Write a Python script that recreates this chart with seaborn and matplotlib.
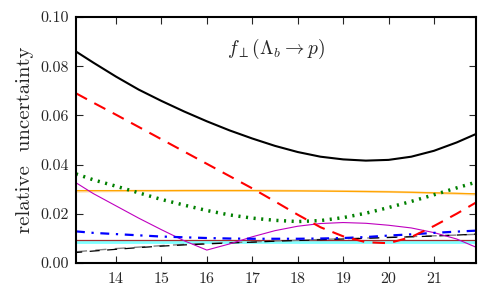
import numpy as np
import pandas as pd
import matplotlib
matplotlib.use("Agg")
import matplotlib.pyplot as plt
import seaborn as sns

sns.set_style("ticks")
plt.rcParams['font.family'] = ['cmr10', 'DejaVu Serif']
plt.rcParams['mathtext.fontset'] = 'cm'
plt.rcParams['axes.formatter.use_mathtext'] = True

q2 = [13.12, 13.5, 14.0, 14.5, 15.0, 15.5, 16.0, 16.5, 17.0, 17.5, 18.0,
      18.5, 19.0, 19.5, 20.0, 20.5, 21.0, 21.5, 21.92]

total = [0.0860, 0.0815, 0.0758, 0.0705, 0.0659, 0.0616, 0.0576, 0.0539,
         0.0506, 0.0476, 0.0451, 0.0432, 0.0421, 0.0416, 0.0419, 0.0432,
         0.0456, 0.0490, 0.0524]
red = [0.0690, 0.0652, 0.0603, 0.0553, 0.0503, 0.0453, 0.0403, 0.0353,
       0.0303, 0.0250, 0.0196, 0.0145, 0.0108, 0.0084, 0.0080, 0.0105,
       0.0150, 0.0200, 0.0245]
green = [0.0362, 0.0338, 0.0312, 0.0285, 0.0258, 0.0235, 0.0213, 0.0195,
         0.0182, 0.0173, 0.0168, 0.0172, 0.0184, 0.0202, 0.0225, 0.0250,
         0.0277, 0.0305, 0.0328]
orange = [0.0294, 0.0294, 0.0294, 0.0294, 0.0294, 0.0294, 0.0294, 0.0294,
          0.0294, 0.0293, 0.0293, 0.0292, 0.0291, 0.0290, 0.0289, 0.0287,
          0.0285, 0.0283, 0.0281]
lightorange = [0.0290, 0.0291, 0.0292, 0.0293, 0.0293, 0.0294, 0.0294, 0.0294,
               0.0294, 0.0294, 0.0293, 0.0293, 0.0292, 0.0291, 0.0289, 0.0287,
               0.0284, 0.0281, 0.0278]
magenta = [0.0326, 0.0282, 0.0232, 0.0182, 0.0135, 0.0090, 0.0052, 0.0077,
           0.0106, 0.0131, 0.0149, 0.0160, 0.0164, 0.0161, 0.0153, 0.0142,
           0.0123, 0.0097, 0.0064]
blue = [0.0128, 0.0122, 0.0117, 0.0112, 0.0107, 0.0104, 0.0101, 0.0099,
        0.0098, 0.0098, 0.0098, 0.0099, 0.0101, 0.0105, 0.0111, 0.0116,
        0.0122, 0.0127, 0.0131]
brown = [0.0095] * len(q2)
cyan = [0.0083] * len(q2)
blackdash = [0.0042, 0.0048, 0.0055, 0.0062, 0.0068, 0.0073, 0.0077, 0.0081,
             0.0084, 0.0088, 0.0091, 0.0094, 0.0097, 0.0100, 0.0103, 0.0106,
             0.0109, 0.0113, 0.0117]
graydash = [0.0045, 0.0051, 0.0058, 0.0064, 0.0070, 0.0075, 0.0079, 0.0082,
            0.0085, 0.0089, 0.0092, 0.0095, 0.0098, 0.0101, 0.0104, 0.0107,
            0.0110, 0.0113, 0.0116]

xticks = [14, 15, 16, 17, 18, 19, 20, 21]
yticks = [0.00, 0.02, 0.04, 0.06, 0.08, 0.10]

fig = plt.figure(figsize=(4.87, 2.95), dpi=100)
ax = fig.add_axes([0.156, 0.109, 0.821, 0.833])

styles = [
    (cyan, dict(color='#7fffff', lw=2.0, ls='-')),
    (brown, dict(color='#a52a2a', lw=0.9, ls='-')),
    (graydash, dict(color='gray', lw=1.0, ls=(0, (8, 6)))),
    (blackdash, dict(color='black', lw=0.9, ls=(3, (8, 6)))),
    (lightorange, dict(color='#ffdead', lw=1.6, ls='-')),
    (orange, dict(color='orange', lw=0.9, ls='-')),
    (magenta, dict(color='m', lw=0.8, ls='-')),
    (blue, dict(color='blue', lw=1.6, ls=(0, (4, 3, 1, 3)))),
    (green, dict(color='green', lw=2.5, ls=(0, (0.6, 1.6)))),
    (red, dict(color='red', lw=1.5, ls=(0, (6, 4)))),
    (total, dict(color='black', lw=1.5, ls='-')),
]
for vals, st in styles:
    df = pd.DataFrame({'q2': q2, 'v': vals})
    sns.lineplot(data=df, x='q2', y='v', ax=ax, color=st['color'],
                 linewidth=st['lw'], linestyle=st['ls'], estimator=None,
                 sort=False)

ax.set_xlim(13.12, 21.92)
ax.set_ylim(0, 0.10)
ax.set_xticks(xticks)
ax.set_xticklabels([str(t) for t in xticks])
ax.set_yticks(yticks)
ax.set_yticklabels([f"{t:.2f}" for t in yticks])
ax.tick_params(direction='in', top=True, right=True, length=5, width=0.8,
               labelsize=11.5, pad=5)
ax.tick_params(axis='x', pad=7)
for s in ax.spines.values():
    s.set_linewidth(1.5)
    s.set_color('black')
ax.set_xlabel('')
ax.set_ylabel('relative  uncertainty', fontsize=15, labelpad=5)
ax.text(0.5, 0.87, r'$f_\perp(\Lambda_b \to p)$', transform=ax.transAxes,
        ha='center', va='center', fontsize=14)

fig.savefig('out.png', dpi=100)
